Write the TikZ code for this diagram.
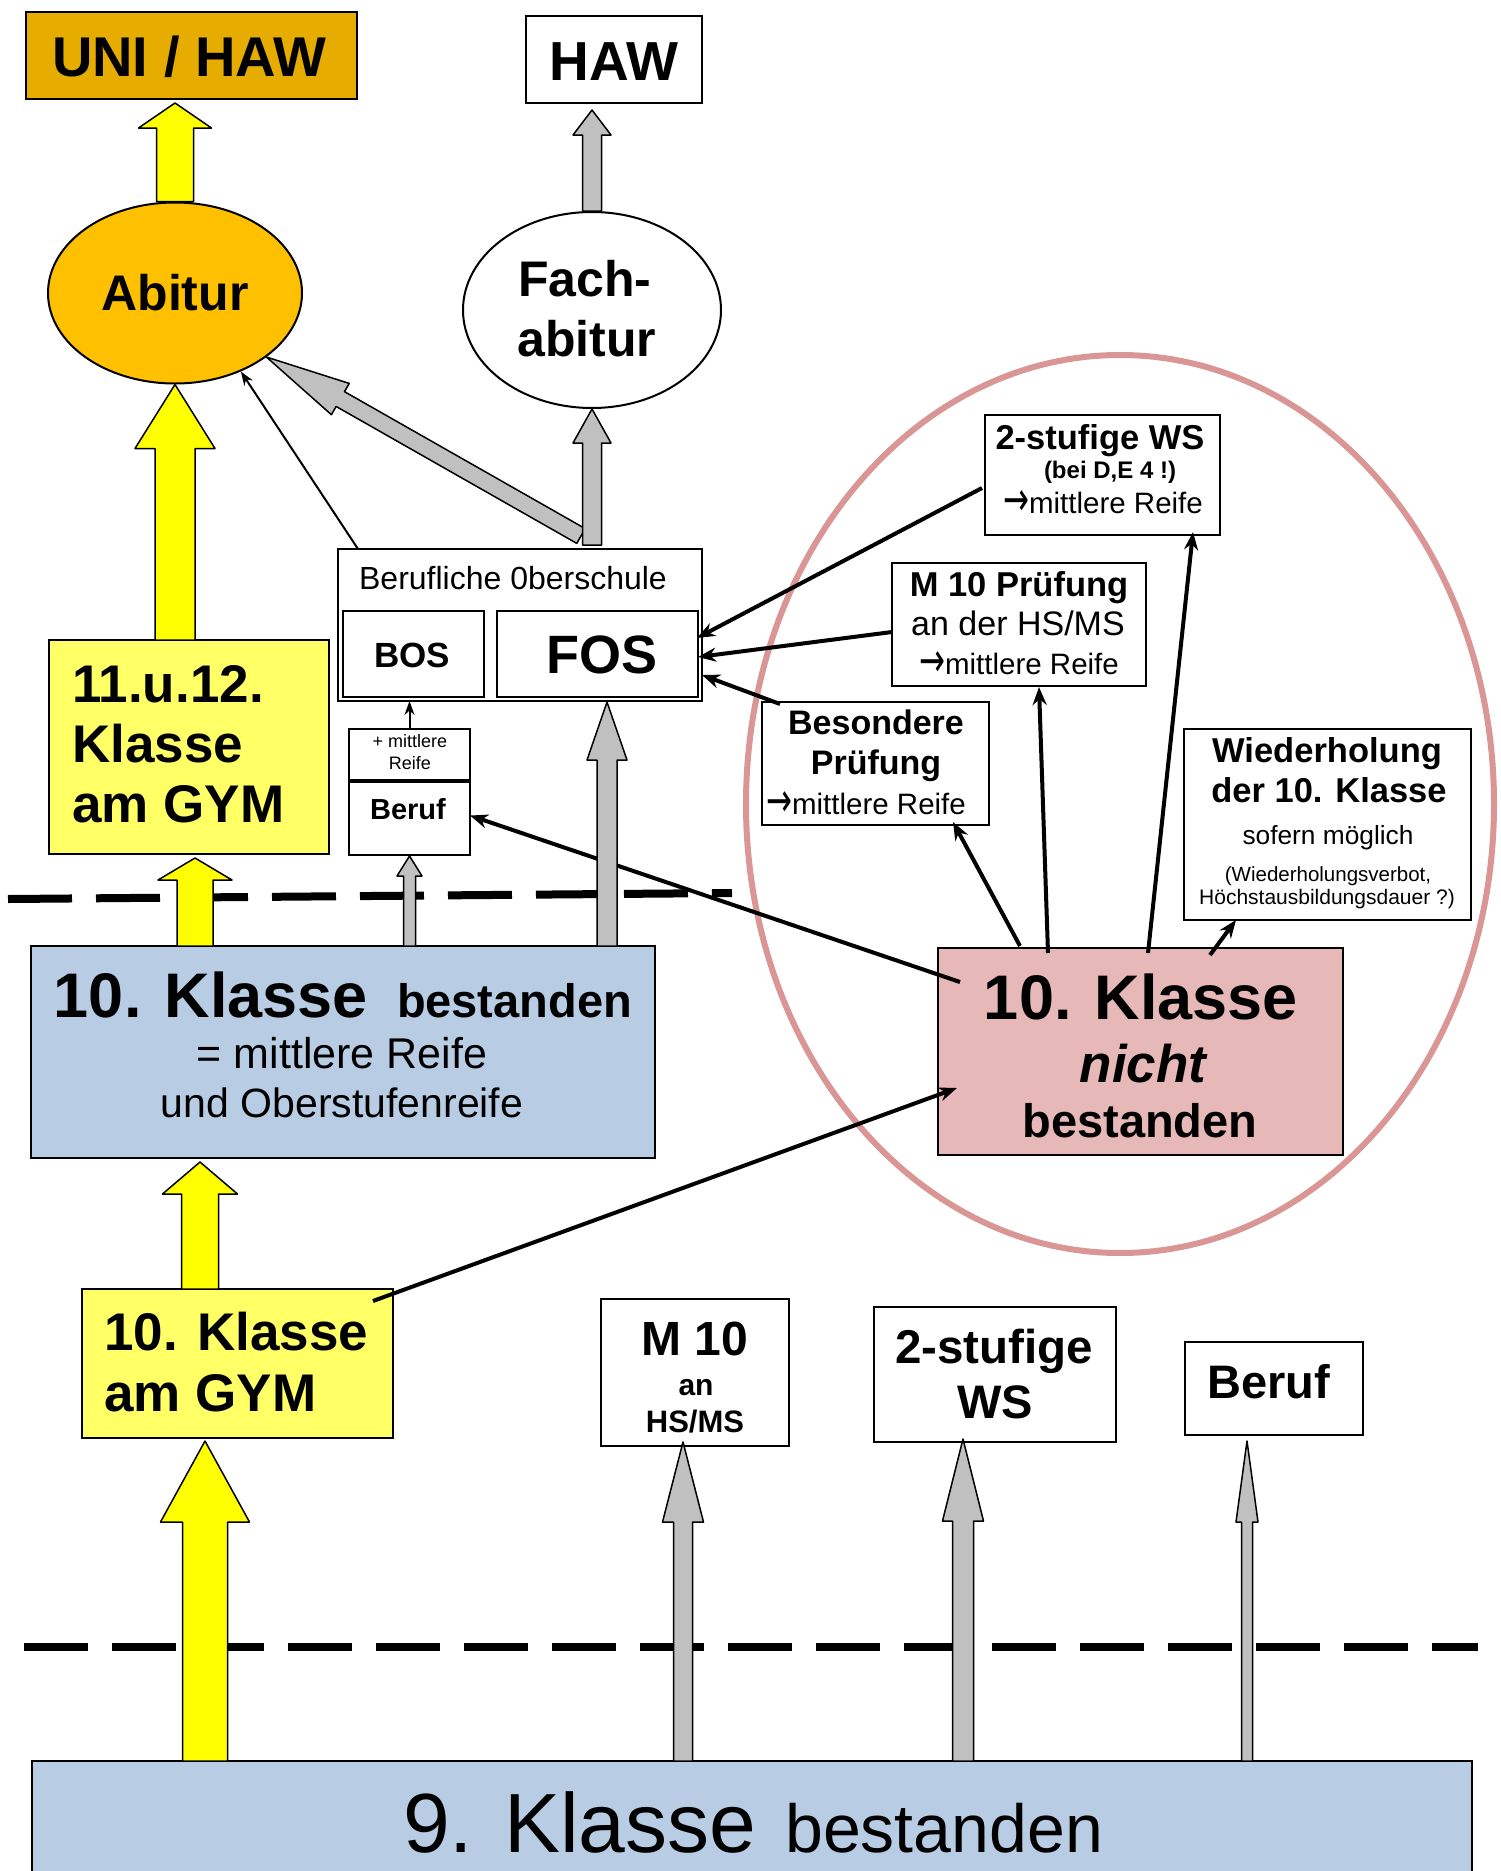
\documentclass[tikz,border=0pt]{standalone}
\usepackage{fontspec}
\usepackage{graphicx}
\setmainfont{Liberation Sans}
\newfontfamily\arrowfont{DejaVu Sans}
\usetikzlibrary{calc,arrows.meta,shapes.geometric}
\definecolor{unigold}{HTML}{E6AC00}
\definecolor{abiorange}{HTML}{FFC000}
\definecolor{arrowyellow}{HTML}{FFFF00}
\definecolor{boxyellow}{HTML}{FFFF66}
\definecolor{arrowgray}{HTML}{C0C0C0}
\definecolor{boxblue}{HTML}{B8CCE4}
\definecolor{boxpink}{HTML}{E6B8B7}
\definecolor{ovalpink}{HTML}{D99694}
\newcommand\fsz[1]{\fontsize{#1pt}{#1pt}\selectfont}
\newcommand\toarrow{\raisebox{-0.1em}{\scalebox{1.05}[1.6]{\arrowfont →}}}
% \rbox[options]{name}{x1}{y1}{x2}{y2}
\newcommand\rbox[6][]{\node[box,#1,minimum width={#5-#3},minimum height={#6-#4}] (#2) at ({(#3+#5)/2},{(#4+#6)/2}) {};}
% \blockarrow{fill}{(start)}{(tip)}{half shaft}{half head}{head length}
\newcommand\blockarrow[6]{%
  \coordinate (ba-s) at #2;
  \coordinate (ba-e) at #3;
  \coordinate (ba-h) at ($(ba-e)!#6!(ba-s)$);
  \filldraw[fill=#1, draw=black, line width=1.5pt, line join=round]
    ($(ba-s)!#4!90:(ba-e)$) -- ($(ba-h)!#4!90:(ba-e)$) -- ($(ba-h)!#5!90:(ba-e)$) -- (ba-e)
    -- ($(ba-h)!#5!-90:(ba-e)$) -- ($(ba-h)!#4!-90:(ba-e)$) -- ($(ba-s)!#4!-90:(ba-e)$) -- cycle;
}
\begin{document}
\begin{tikzpicture}[x=1pt,y=-1pt,
  box/.style={draw, line width=2pt, inner sep=0pt, outer sep=0pt},
  lbl/.style={inner sep=0pt, anchor=base},
  lblw/.style={inner sep=0pt, anchor=base west},
  conn/.style={draw, line width=4pt, -{Stealth[length=18pt,width=14pt]}},
  thinconn/.style={draw, line width=2pt, -{Stealth[length=14pt,width=10pt]}},
  divider/.style={line width=8pt, dash pattern=on 64pt off 24pt},
]
\useasboundingbox (0,0) rectangle (1500,1871);
\clip (0,0) rectangle (1500,1871);
\fill[white] (0,0) rectangle (1500,1871);

% pink oval
\node[draw=ovalpink, line width=6pt, ellipse, minimum width=748, minimum height=898, inner sep=0pt] (oval) at (1120,804) {};

% dashed dividers
\draw[divider] (8,899) -- (732,893);
\draw[divider] (24,1647) -- (1478,1647);

% top targets
\rbox[fill=unigold]{uni}{26}{12}{357}{99}
\node[lbl, font={\bfseries\fsz{56}}] (unit) at (189,76) {UNI / HAW};
\rbox[fill=white]{haw}{526}{16}{702}{103}
\node[lbl, font={\bfseries\fsz{55}}] (hawt) at (614,80) {HAW};

\node[draw, line width=2pt, ellipse, fill=abiorange, minimum width=254, minimum height=181, inner sep=0pt] (abitur) at (175,293) {};
\node[lbl, font={\bfseries\fsz{50}}] (abiturt) at (175,310) {Abitur};
\node[draw, line width=2pt, ellipse, fill=white, minimum width=258, minimum height=196, inner sep=0pt] (fach) at (592,310) {};
\node[lblw, font={\bfseries\fsz{50}}] (facht1) at (518,296) {Fach-};
\node[lblw, font={\bfseries\fsz{50}}] (facht2) at (517,356) {abitur};

% gymnasium column
\rbox[fill=boxyellow]{gym11}{49}{640}{329}{854}
\node[lblw, font={\bfseries\fsz{53}}] (gym11t1) at (72,702) {11.u.12.};
\node[lblw, font={\bfseries\fsz{53}}] (gym11t2) at (72,762) {Klasse};
\node[lblw, font={\bfseries\fsz{53}}] (gym11t3) at (72,822) {am GYM};

% Berufliche Oberschule
\rbox[fill=white]{bo}{338}{549}{702}{701}
\node[lbl, font={\fsz{32}}] (bot) at (513,589) {Berufliche 0berschule};
\rbox[fill=white]{bos}{343}{611}{484}{697}
\node[lbl, font={\bfseries\fsz{35}}] (bost) at (412,667) {BOS};
\rbox[fill=white]{fos}{497}{611}{698}{697}
\node[lbl, font={\bfseries\fsz{54}}] (fost) at (602,673) {FOS};
\rbox[fill=white]{mr}{349}{729}{470}{780}
\node[lbl, font={\fsz{18}}] (mrt1) at (410,747) {+ mittlere};
\node[lbl, font={\fsz{18}}] (mrt2) at (410,769) {Reife};
\rbox[fill=white]{beruf}{349}{782}{470}{855}
\node[lbl, font={\bfseries\fsz{29}}] (beruft) at (408,819) {Beruf};

% 10. Klasse bestanden
\rbox[fill=boxblue]{kb}{31}{946}{655}{1158}
\node[lbl, font={\bfseries\fsz{63}}] (kbt1) at (343,1017) {10. Klasse\hspace{29pt}{\fsz{47}bestanden}};
\node[lbl, font={\fsz{43}}] (kbt2) at (342,1068) {= mittlere Reife};
\node[lbl, font={\fsz{41}}] (kbt3) at (342,1117) {und Oberstufenreife};

% right cluster
\rbox[fill=white]{ws2top}{985}{415}{1220}{535}
\node[lbl, font={\bfseries\fsz{34.5}}] (ws2topt1) at (1100,449) {2-stufige WS};
\node[lbl, font={\bfseries\fsz{24}}] (ws2topt2) at (1110,478) {(bei D,E 4 !)};
\node[lbl, font={\fsz{29.5}}] (ws2topt3) at (1103,513) {\toarrow mittlere Reife};

\rbox[fill=white]{m10top}{892}{563}{1146}{686}
\node[lbl, font={\bfseries\fsz{34.5}}] (m10topt1) at (1019,596) {M 10 Prüfung};
\node[lbl, font={\fsz{34}}] (m10topt2) at (1018,635) {an der HS/MS};
\node[lbl, font={\fsz{29.5}}] (m10topt3) at (1019,674) {\toarrow mittlere Reife};

\rbox[fill=white]{bes}{762}{702}{989}{825}
\node[lbl, font={\bfseries\fsz{34}}] (best1) at (876,734) {Besondere};
\node[lbl, font={\bfseries\fsz{34}}] (best2) at (876,774) {Prüfung};
\node[lbl, font={\fsz{29.5}}] (best3) at (866,814) {\toarrow mittlere Reife};

\rbox[fill=white]{wied}{1184}{729}{1471}{920}
\node[lbl, font={\bfseries\fsz{34.5}}] (wiedt1) at (1327,762) {Wiederholung};
\node[lbl, font={\bfseries\fsz{34.5}}] (wiedt2) at (1329,802) {der 10. Klasse};
\node[lbl, font={\fsz{26.3}}] (wiedt3) at (1328,844) {sofern möglich};
\node[lbl, font={\fsz{20.5}}] (wiedt4) at (1328,881) {(Wiederholungsverbot,};
\node[lbl, font={\fsz{21}}] (wiedt5) at (1327,904) {Höchstausbildungsdauer ?)};

\rbox[fill=boxpink]{nicht}{938}{948}{1343}{1155}
\node[lbl, font={\bfseries\fsz{63}}] (nichtt1) at (1141,1019) {10. Klasse};
\node[lbl, font={\bfseries\itshape\fsz{53}}] (nichtt2) at (1143,1082) {nicht};
\node[lbl, font={\bfseries\fsz{47}}] (nichtt3) at (1140,1137) {bestanden};

% 10. Klasse am GYM and lower boxes
\rbox[fill=boxyellow]{gym10}{82}{1289}{393}{1438}
\node[lblw, font={\bfseries\fsz{53}}] (gym10t1) at (104,1350) {10. Klasse};
\node[lblw, font={\bfseries\fsz{53}}] (gym10t2) at (104,1411) {am GYM};

\rbox[fill=white]{m10b}{601}{1299}{789}{1446}
\node[lbl, font={\bfseries\fsz{48}}] (m10bt1) at (695,1355) {M 10};
\node[lbl, font={\bfseries\fsz{30}}] (m10bt2) at (696,1395) {an};
\node[lbl, font={\bfseries\fsz{31}}] (m10bt3) at (695,1432) {HS/MS};

\rbox[fill=white]{ws2b}{874}{1307}{1116}{1442}
\node[lbl, font={\bfseries\fsz{47.5}}] (ws2bt1) at (994,1363) {2-stufige};
\node[lbl, font={\bfseries\fsz{47}}] (ws2bt2) at (995,1418) {WS};

\rbox[fill=white]{berufb}{1185}{1342}{1363}{1435}
\node[lbl, font={\bfseries\fsz{47}}] (berufbt) at (1269,1398) {Beruf};

\rbox[fill=boxblue]{nine}{32}{1761}{1472}{1880}
\node[lbl, font={\fsz{84}}] (ninet) at (753,1852) {9. Klasse\hspace{29pt}{\fsz{68}bestanden}};

% black connectors
\draw[conn] ($(ws2top.west)+(-3,13)$) -- ($(fos.east)+(-1,-16)$);
\draw[conn] ($(m10top.west)+(0,7.5)$) -- ($(fos.east)+(0,3)$);
\draw[conn] ($(bes.north west)+(18,2)$) -- ($(fos.east)+(4,21)$);
\draw[conn] ($(nicht.north west)+(82,-2)$) -- ($(bes.south west)+(191,-3)$);
\draw[conn] ($(nicht.north west)+(110,5)$) -- ($(m10top.south west)+(147,1)$);
\draw[conn] ($(nicht.north west)+(210,5)$) -- ($(ws2top.south west)+(208,-3)$);
\draw[conn] ($(nicht.north west)+(272,7)$) -- ($(wied.south west)+(52,0)$);
\draw[conn] ($(nicht.north west)+(22,34)$) -- ($(beruf.east)+(0,-3)$);
\draw[conn] ($(gym10.north east)+(-20,12)$) -- ($(nicht.west)+(19,36.5)$);
\draw[thinconn] ($(bo.north west)+(20,0)$) -- (abitur.-50);
\draw[thinconn] (mr.north) -- (mr.north |- bo.south);

% block arrows
\blockarrow{arrowyellow}{(abitur.north)}{($(abitur.north |- uni.south)+(0,4)$)}{18.5pt}{36.5pt}{25pt}
\blockarrow{arrowgray}{(fach.north)}{($(fach.north |- haw.south)+(0,7)$)}{9.5pt}{19pt}{25pt}
\blockarrow{arrowyellow}{(abitur.south |- gym11.north)}{(abitur.south)}{20pt}{40pt}{64pt}
\coordinate (fork) at ($(fach.south |- bo.north)+(0,-4)$);
\blockarrow{arrowgray}{($(fork)+(-11,-9)$)}{(abitur.-35)}{8.5pt}{18pt}{85pt}
\blockarrow{arrowgray}{(fork)}{(fach.south)}{9.5pt}{19pt}{34pt}
\blockarrow{arrowyellow}{($(gym10.north west)+(118,0)$)}{($(gym10.north west |- kb.south)+(118,4)$)}{18.5pt}{37.5pt}{32pt}
\blockarrow{arrowyellow}{($(kb.north west)+(164,0)$)}{($(kb.north west |- gym11.south)+(164,4)$)}{18pt}{37pt}{22pt}
\blockarrow{arrowgray}{(beruf.south |- kb.north)}{($(beruf.south)+(0,1)$)}{6pt}{12.5pt}{20pt}
\blockarrow{arrowgray}{($(bo.south |- kb.north)+(87,0)$)}{($(bo.south)+(87,1)$)}{10pt}{20pt}{58pt}
\blockarrow{arrowyellow}{($(nine.north west)+(173,0)$)}{($(nine.north west |- gym10.south)+(173,3)$)}{22.5pt}{44.5pt}{81pt}
\blockarrow{arrowgray}{($(m10b.south |- nine.north)+(-12,0)$)}{($(m10b.south)+(-12,-4)$)}{9.5pt}{20.5pt}{80pt}
\blockarrow{arrowgray}{($(ws2b.south |- nine.north)+(-32,0)$)}{($(ws2b.south)+(-32,-3)$)}{10.5pt}{20.5pt}{82pt}
\blockarrow{arrowgray}{($(berufb.south |- nine.north)+(-27,0)$)}{($(berufb.south)+(-27,6)$)}{5.5pt}{11pt}{81pt}
\end{tikzpicture}
\end{document}
